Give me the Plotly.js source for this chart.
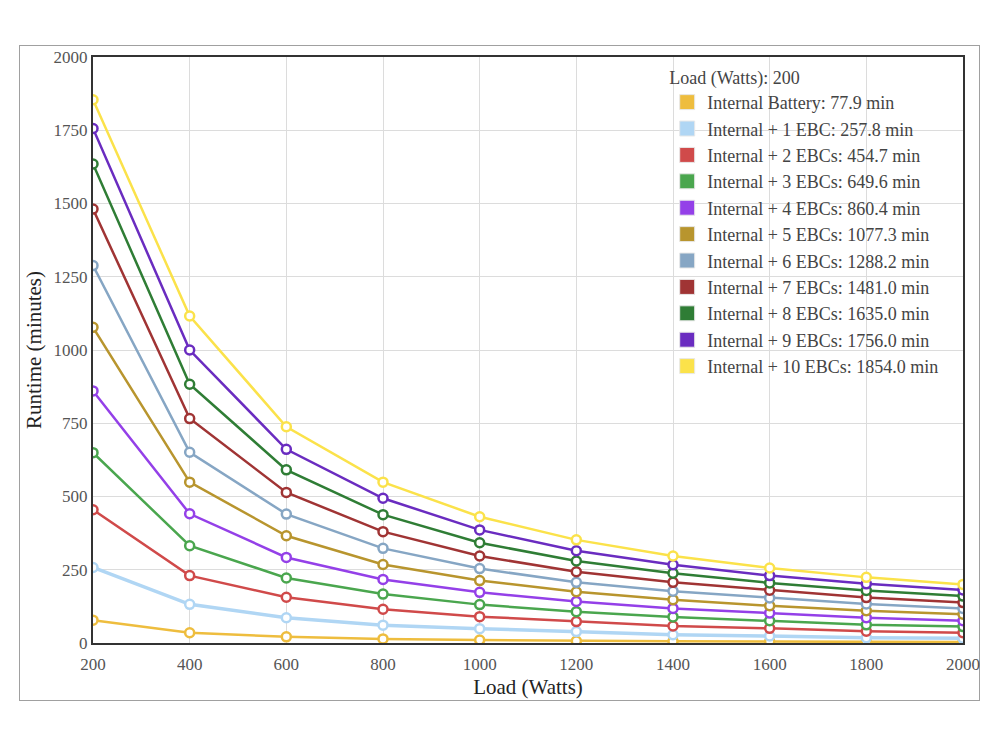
<!DOCTYPE html>
<html>
<head>
<meta charset="utf-8">
<script src="https://cdn.plot.ly/plotly-3.0.1.min.js"></script>
<style>
  html, body { margin: 0; padding: 0; background: #fff; }
  #frame { position: absolute; left: 19px; top: 45px; width: 961px; height: 656px; border: 1px solid #a0a0a0; box-sizing: border-box; }
  #chart { position: absolute; left: 0; top: 0; width: 1000px; height: 750px; }
</style>
</head>
<body>
<div id="frame"></div>
<div id="chart"></div>
<script>
const loads = [200, 400, 600, 800, 1000, 1200, 1400, 1600, 1800, 2000];

const internalBattery = [77.9, 35, 21, 14, 10, 7, 6, 5, 4, 3];
const plus1EBC  = [257.8, 132, 86, 61, 49, 39, 28, 24, 18, 16];
const plus2EBCs = [454.7, 230, 156, 115, 90, 73, 58, 50, 40, 35];
const plus3EBCs = [649.6, 332, 222, 167, 131, 107, 89, 76, 62, 56];
const plus4EBCs = [860.4, 441, 292, 217, 173, 142, 118, 102, 86, 76];
const plus5EBCs = [1077.3, 549, 366, 268, 213, 175, 148, 127, 110, 98];
const plus6EBCs = [1288.2, 651, 440, 323, 254, 207, 177, 154, 133, 118];
const plus7EBCs = [1481.0, 766, 514, 380, 297, 243, 207, 180, 155, 138];
const plus8EBCs = [1635.0, 883, 591, 438, 342, 280, 238, 205, 179, 160];
const plus9EBCs = [1756.0, 1000, 661, 494, 386, 315, 267, 230, 202, 181];
const plus10EBCs = [1854.0, 1116, 738, 549, 431, 352, 297, 256, 224, 200];

const seriesNames = [
  "Internal Battery", "Internal + 1 EBC", "Internal + 2 EBCs", "Internal + 3 EBCs",
  "Internal + 4 EBCs", "Internal + 5 EBCs", "Internal + 6 EBCs", "Internal + 7 EBCs",
  "Internal + 8 EBCs", "Internal + 9 EBCs", "Internal + 10 EBCs"
];
const seriesValues = [internalBattery, plus1EBC, plus2EBCs, plus3EBCs, plus4EBCs,
  plus5EBCs, plus6EBCs, plus7EBCs, plus8EBCs, plus9EBCs, plus10EBCs];
const seriesColors = ["#eebd3e", "#b0d6f4", "#d04a4a", "#4aa64e", "#9440e8", "#b8952e",
  "#86a6c4", "#a03434", "#2f7d35", "#6a2cc0", "#fbe24a"];
const legendLoadIndex = 0;

const traces = [];
seriesValues.forEach((vals, i) => {
  traces.push({
    type: "scatter", mode: "lines+markers", x: loads, y: vals,
    name: seriesNames[i], showlegend: false,
    line: { color: seriesColors[i], width: i === 1 ? 3.5 : 2.5 },
    marker: { symbol: "circle", size: 9, color: "#ffffff", line: { color: seriesColors[i], width: 2.5 } },
    hoverinfo: "skip"
  });
});
seriesValues.forEach((vals, i) => {
  traces.push({
    type: "scatter", mode: "markers", x: [null], y: [null],
    name: seriesNames[i] + ": " + vals[legendLoadIndex].toFixed(1) + " min",
    showlegend: true,
    marker: { symbol: "square", size: 15, color: seriesColors[i], line: { color: "#e8e8e8", width: 1 } }
  });
});

const layout = {
  width: 1000, height: 750,
  margin: { l: 93, r: 37, t: 57, b: 107 },
  paper_bgcolor: "rgba(0,0,0,0)",
  plot_bgcolor: "rgba(0,0,0,0)",
  font: { family: "Liberation Serif, Times New Roman, serif", size: 17, color: "#555" },
  xaxis: {
    range: [200, 2000], tickvals: loads, ticktext: loads.map(String),
    showgrid: true, gridcolor: "#dcdcdc", gridwidth: 1,
    showline: true, linecolor: "#333", linewidth: 2, mirror: true,
    ticks: "", zeroline: false, ticklabelstandoff: 5,
    tickfont: { size: 17, color: "#555" },
    title: { text: "Load (Watts)", font: { size: 21, color: "#222" }, standoff: 6 }
  },
  yaxis: {
    range: [0, 2000], tickvals: [0, 250, 500, 750, 1000, 1250, 1500, 1750, 2000],
    showgrid: true, gridcolor: "#dcdcdc", gridwidth: 1,
    showline: true, linecolor: "#333", linewidth: 2, mirror: true,
    ticks: "", zeroline: false,
    tickfont: { size: 17, color: "#555" },
    title: { text: "Runtime (minutes)", font: { size: 21, color: "#222" }, standoff: 6 }
  },
  showlegend: true,
  legend: {
    x: 0.66, xanchor: "left", y: 0.994, yanchor: "top",
    bgcolor: "rgba(255,255,255,0)", borderwidth: 0,
    font: { size: 18, color: "#444" },
    title: { text: "Load (Watts): " + loads[legendLoadIndex], font: { size: 18, color: "#444" } },
    itemclick: false
  }
};

Plotly.newPlot("chart", traces, layout, { displayModeBar: false, staticPlot: true });
</script>
</body>
</html>
